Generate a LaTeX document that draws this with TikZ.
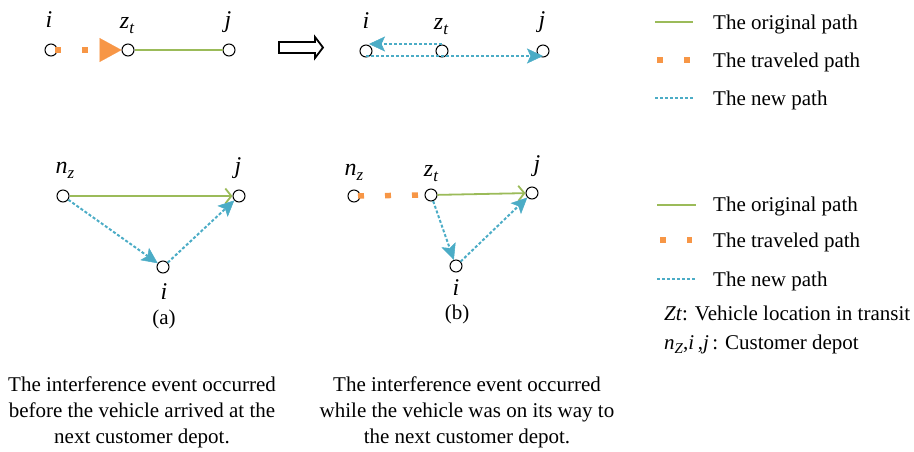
\documentclass[tikz,border=0pt]{standalone}
\usepackage{fontspec}
\setmainfont{Liberation Serif}
\usetikzlibrary{arrows.meta}
\definecolor{ogreen}{HTML}{9BBB59}
\definecolor{oorange}{HTML}{F79646}
\definecolor{oblue}{HTML}{4BACC6}
\newcommand\lsub[2]{\textit{#1}\raisebox{-0.22em}{\fontsize{17}{17}\selectfont\textit{#2}}}
\tikzset{
  vtx/.style={circle,draw=black,fill=white,line width=1pt,minimum size=12pt,inner sep=0pt},
  lbl/.style={font=\fontsize{24}{26}\selectfont\itshape,inner sep=0pt,anchor=base},
  txt/.style={font=\fontsize{21}{25}\selectfont,inner sep=0pt,anchor=base west},
  ctxt/.style={font=\fontsize{21}{26}\selectfont,inner sep=0pt,align=center,anchor=north},
  orig/.style={ogreen,line width=1.8pt},
  trav/.style={oorange,line width=5.5pt,dash pattern=on 6pt off 21pt,dash phase=23pt},
  newp/.style={oblue,line width=2pt,dash pattern=on 3pt off 2pt},
  btip/.style={-{Stealth[length=16pt,width=15pt,inset=3.5pt,line width=0.5pt]}},
  gtip/.style={-{Straight Barb[length=6pt,width=15pt]}},
  otip/.style={-{Triangle[length=22pt,width=24pt,line width=0.1pt]}},
}
\begin{document}
\begin{tikzpicture}[x=1pt,y=-1pt]
\useasboundingbox (0,0) rectangle (914,451);
% ---------- top left ----------
\node[vtx] (i1) at (51,50) {};
\node[vtx] (z1) at (128,50) {};
\node[vtx] (j1) at (229,50) {};
\node[lbl] (li1) at (49,27) {i};
\node[lbl] (lz1) at (127,28) {\lsub{z}{t}};
\node[lbl] (lj1) at (228,27) {j};
\draw[trav,otip] (i1.center) -- (z1.west);
\draw[orig] (z1) -- (j1);
% block arrow
\draw[line width=1.8pt,fill=white] (279,42) -- (315,42) -- (315,37) -- (323,47.5) -- (315,58) -- (315,53) -- (279,53) -- cycle;
% ---------- top middle ----------
\node[vtx] (i2) at (366,51) {};
\node[vtx] (z2) at (442,51) {};
\node[vtx] (j2) at (543,51) {};
\node[lbl] (li2) at (366,28) {i};
\node[lbl] (lz2) at (441,29) {\lsub{z}{t}};
\node[lbl] (lj2) at (542,27) {j};
\draw[newp,btip] ([yshift=0.5pt]z2.north) -- ([xshift=3pt,yshift=0.5pt]i2.north);
\draw[newp,btip] ([yshift=1.5pt]i2.south) -- ([yshift=1.5pt]j2.south);
% ---------- legend 1 ----------
\coordinate (g1a) at (655,22); \coordinate (g1b) at (693,22);
\draw[orig] (g1a) -- (g1b);
\node[txt] (t1a) at (713,29) {The original path};
\coordinate (o1a) at (655,60); \coordinate (o1b) at (692,60);
\draw[trav,dash phase=25pt] (o1a) -- (o1b);
\node[txt] (t1b) at (713,67) {The traveled path};
\coordinate (b1a) at (655,98); \coordinate (b1b) at (693,98);
\draw[newp] (b1a) -- (b1b);
\node[txt] (t1c) at (713,105) {The new path};
% ---------- bottom left (a) ----------
\node[vtx] (na) at (63,196) {};
\node[vtx] (ja) at (239,196) {};
\node[vtx] (ia) at (163,267) {};
\node[lbl] (lna) at (65,173) {\lsub{n}{z}};
\node[lbl] (lja) at (238,173) {j};
\node[lbl] (lia) at (164,299) {i};
\draw[orig,gtip] (na) -- (ja);
\draw[newp,btip] (na) -- (ia);
\draw[newp,btip] (ia) -- (ja);
\node[font=\fontsize{21}{25}\selectfont,inner sep=0pt,anchor=base] (capa) at (164,324) {(a)};
% ---------- bottom middle (b) ----------
\node[vtx] (nb) at (354,196) {};
\node[vtx] (zb) at (431,195) {};
\node[vtx] (jb) at (532,193) {};
\node[vtx] (ib) at (456,266) {};
\node[lbl] (lnb) at (354,175) {\lsub{n}{z}};
\node[lbl] (lzb) at (431,176) {\lsub{z}{t}};
\node[lbl] (ljb) at (537,171) {j};
\node[lbl] (lib) at (456,295) {i};
\draw[trav] (nb.center) -- (zb.west);
\draw[orig,gtip] (zb) -- (jb);
\draw[newp,btip] (zb) -- (ib);
\draw[newp,btip] (ib) -- (jb);
\node[font=\fontsize{21}{25}\selectfont,inner sep=0pt,anchor=base] (capb) at (457,319) {(b)};
% ---------- legend 2 ----------
\coordinate (g2a) at (657,205); \coordinate (g2b) at (696,205);
\draw[orig] (g2a) -- (g2b);
\node[txt] (t2a) at (713,211) {The original path};
\coordinate (o2a) at (658,240); \coordinate (o2b) at (692,240);
\draw[trav,dash phase=25pt] (o2a) -- (o2b);
\node[txt] (t2b) at (713,247) {The traveled path};
\coordinate (b2a) at (657,279); \coordinate (b2b) at (696,279);
\draw[newp] (b2a) -- (b2b);
\node[txt] (t2c) at (713,286) {The new path};
\node[txt] (t2d) at (664,320) {\textit{Zt}: Vehicle location in transit};
\node[txt] (t2e) at (664,349) {\textit{n}\raisebox{-0.22em}{\fontsize{15}{15}\selectfont\textit{Z}},\textit{i}\,,\textit{j}\,: Customer depot};
% ---------- captions ----------
\node[ctxt] (cap1) at (142,377) {The interference event occurred\\before the vehicle arrived at the\\next customer depot.};
\node[ctxt] (cap2) at (467,377) {The interference event occurred\\while the vehicle was on its way to\\the next customer depot.};
\end{tikzpicture}
\end{document}
